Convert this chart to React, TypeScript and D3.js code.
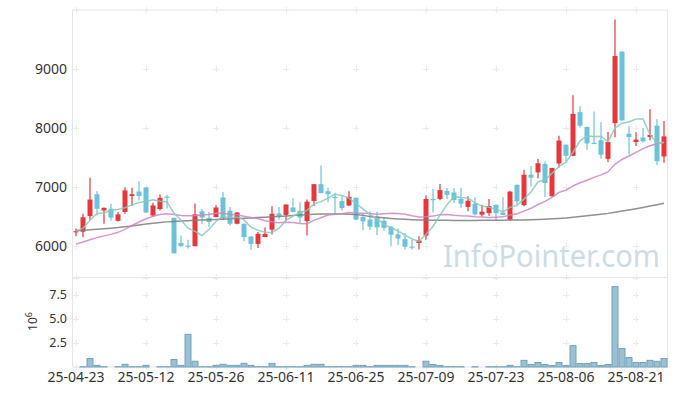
import React from 'react';
import * as d3 from 'd3';

const dates = [
  '25-04-23','25-04-24','25-04-25','25-04-28','25-04-29','25-04-30','25-05-02','25-05-07','25-05-08','25-05-09',
  '25-05-12','25-05-13','25-05-14','25-05-15','25-05-16','25-05-19','25-05-20','25-05-21','25-05-22','25-05-23',
  '25-05-26','25-05-27','25-05-28','25-05-29','25-05-30','25-06-02','25-06-04','25-06-05','25-06-09','25-06-10',
  '25-06-11','25-06-12','25-06-13','25-06-16','25-06-17','25-06-18','25-06-19','25-06-20','25-06-23','25-06-24',
  '25-06-25','25-06-26','25-06-27','25-06-30','25-07-01','25-07-02','25-07-03','25-07-04','25-07-07','25-07-08',
  '25-07-09','25-07-10','25-07-11','25-07-14','25-07-15','25-07-16','25-07-17','25-07-18','25-07-21','25-07-22',
  '25-07-23','25-07-24','25-07-25','25-07-28','25-07-29','25-07-30','25-07-31','25-08-01','25-08-04','25-08-05',
  '25-08-06','25-08-07','25-08-08','25-08-11','25-08-12','25-08-13','25-08-14','25-08-18','25-08-19','25-08-20',
  '25-08-21','25-08-22','25-08-25','25-08-26','25-08-27',
];

const opens = [
  6235, 6245, 6510, 6880, 6605, 6635, 6430, 6580, 6850, 6925,
  6995, 6520, 6630, 6840, 6480, 6055, 6010, 6000, 6590, 6480,
  6495, 6825, 6600, 6380, 6380, 6165, 6040, 6155, 6280, 6555,
  6530, 6655, 6600, 6425, 6765, 7050, 6930, 6835, 6765, 6690,
  6820, 6495, 6450, 6500, 6430, 6330, 6200, 6120, 5995, 6055,
  6180, 6800, 6800, 6935, 6910, 6800, 6665, 6720, 6535, 6560,
  6700, 6570, 6450, 7040, 6695, 7210, 7250, 7395, 6845, 7400,
  7720, 7530, 8270, 8020, 7750, 7795, 7480, 8085, 9295, 7905,
  7765, 7840, 7850, 8040, 7520,
];
const highs = [
  6300, 6550, 7160, 6930, 6655, 6720, 6580, 7000, 6990, 7100,
  7000, 6735, 6875, 6870, 6480, 6180, 6110, 6725, 6630, 6580,
  6695, 6920, 6665, 6580, 6380, 6165, 6240, 6315, 6675, 6665,
  6710, 6810, 6750, 6790, 7055, 7365, 6990, 6905, 6850, 6930,
  6820, 6555, 6590, 6585, 6490, 6340, 6300, 6225, 6110, 6170,
  6860, 6975, 7055, 6985, 6985, 6985, 6845, 6830, 6700, 6800,
  6710, 6830, 6935, 7045, 7295, 7360, 7475, 7435, 7330, 7870,
  7720, 8555, 8370, 8025, 8280, 8100, 7935, 9840, 9300, 8030,
  7930, 8000, 8320, 8150, 8120,
];
const lows = [
  6170, 6150, 6440, 6520, 6380, 6430, 6420, 6550, 6680, 6775,
  6565, 6495, 6605, 6640, 5880, 5995, 5960, 6000, 6380, 6325,
  6485, 6450, 6350, 6370, 6085, 5940, 5970, 6150, 6200, 6450,
  6425, 6575, 6395, 6180, 6680, 6895, 6745, 6550, 6605, 6680,
  6440, 6270, 6280, 6190, 6260, 6000, 6020, 5945, 5945, 5945,
  6110, 6570, 6780, 6800, 6730, 6650, 6590, 6520, 6505, 6515,
  6425, 6525, 6430, 6685, 6675, 7010, 7150, 6835, 6840, 7330,
  7420, 7525, 8010, 7635, 7740, 7480, 7425, 7845, 8125, 7550,
  7695, 7750, 7790, 7375, 7415,
];
const closes = [
  6255, 6490, 6790, 6635, 6650, 6485, 6540, 6945, 6880, 6850,
  6570, 6690, 6820, 6830, 5880, 6000, 6000, 6540, 6485, 6410,
  6655, 6465, 6380, 6570, 6155, 6040, 6210, 6210, 6550, 6510,
  6705, 6580, 6485, 6755, 7050, 6900, 6880, 6815, 6645, 6835,
  6450, 6420, 6330, 6320, 6310, 6195, 6130, 5990, 5985, 6100,
  6800, 6795, 6950, 6870, 6780, 6720, 6770, 6540, 6585, 6680,
  6560, 6530, 6925, 6760, 7210, 7160, 7405, 7070, 7325, 7790,
  7530, 8240, 8040, 7740, 7745, 7550, 7765, 9220, 8130, 7850,
  7805, 7775, 7885, 7440, 7860,
];
// volume in millions of shares
const volumesM = [
  0, 0.03, 0.88, 0.17, 0.03, 0, 0.03, 0.28, 0.03, 0.03,
  0.17, 0, 0.03, 0.03, 0.78, 0.17, 3.38, 0.6, 0.03, 0.03,
  0.17, 0.28, 0.17, 0.17, 0.38, 0.17, 0.03, 0.03, 0.38, 0.03,
  0.03, 0.03, 0.03, 0.17, 0.28, 0.28, 0.03, 0.03, 0.03, 0.03,
  0.17, 0.17, 0.03, 0.17, 0.17, 0.17, 0.17, 0.17, 0.03, 0,
  0.6, 0.26, 0.15, 0.03, 0.03, 0.03, 0, 0.03, 0, 0.03,
  0.03, 0.03, 0.17, 0.03, 0.69, 0.26, 0.47, 0.26, 0.15, 0.47,
  0.15, 2.22, 0.36, 0.36, 0.47, 0.15, 0.26, 8.35, 1.92, 0.98,
  0.47, 0.47, 0.69, 0.59, 0.88,
];
// moving averages whose windows reach before the first shown day
const ma5Head = [6250, 6305, 6440, 6555];
const ma20Head = [
  6035, 6070, 6110, 6145, 6175, 6200, 6235, 6285, 6350, 6410,
  6465, 6505, 6535, 6550, 6535, 6520, 6515, 6520, 6530,
];
const ma120 = [
  6265, 6272, 6280, 6288, 6296, 6305, 6315, 6328, 6342, 6358,
  6375, 6390, 6402, 6412, 6420, 6426, 6432, 6438, 6443, 6448,
  6453, 6458, 6463, 6468, 6473, 6478, 6484, 6490, 6497, 6505,
  6513, 6520, 6527, 6534, 6540, 6545, 6547, 6547, 6545, 6541,
  6535, 6522, 6505, 6492, 6481, 6471, 6462, 6455, 6449, 6445,
  6442, 6440, 6439, 6438, 6437, 6437, 6437, 6437, 6438, 6439,
  6440, 6441, 6442, 6443, 6445, 6448, 6452, 6457, 6463, 6470,
  6478, 6490, 6502, 6514, 6527, 6541, 6556, 6575, 6595, 6615,
  6635, 6657, 6680, 6703, 6726,
];
const priceTicks = [6000, 7000, 8000, 9000];
const volumeTicks = [2.5, 5.0, 7.5];
const xTickLabels = ['25-04-23', '25-05-12', '25-05-26', '25-06-11', '25-06-25', '25-07-09', '25-07-23', '25-08-06', '25-08-21'];

const movingAverage = (n: number, head: number[]) =>
  closes.map((_, i) => (i < head.length ? head[i] : d3.mean(closes.slice(i - n + 1, i + 1)) as number));

const UP = '#e8363b';
const DOWN = '#6cc3d9';
const FONT = '"Noto Sans", "Open Sans", sans-serif';

export default function App() {
  const L = 72.5, R = 667.5, T = 10, MB = 277.5, VB = 367;
  const x = d3.scaleBand<string>().domain(dates).range([L, R]);
  const bw = x.bandwidth();
  const cx = (i: number) => (x(dates[i]) as number) + bw / 2;
  const y = d3.scaleLinear().domain([5470, 10000]).range([MB, T]);
  const yv = d3.scaleLinear().domain([0, 9.3]).range([VB, MB]);

  const ma5 = movingAverage(5, ma5Head);
  const ma20 = movingAverage(20, ma20Head);
  const line = d3.line<number>().x((_, i) => cx(i)).y((d) => y(d));

  const tickIdx = xTickLabels.map((t) => dates.indexOf(t));
  const crossYs = [T, ...priceTicks.map((p) => y(p)), MB, ...volumeTicks.map((v) => yv(v)), VB];
  const gridCol = '#ebebeb';

  return (
    <svg width={677} height={396} style={{ position: 'absolute', left: 0, top: 0, background: '#fff' }} fontFamily={FONT}>
      {/* watermark */}
      <text x={443} y={267} fontSize={31} fill="#c3d7e2" opacity={0.85} fontFamily={FONT}
        textLength={217} lengthAdjust="spacingAndGlyphs">
        InfoPointer.com
      </text>

      {/* frames */}
      <g fill="none" stroke="#e6e6e6" strokeWidth={1}>
        <line x1={L} x2={R} y1={T} y2={T} />
        <line x1={L} x2={R} y1={MB} y2={MB} />
        <line x1={L} x2={R} y1={VB} y2={VB} />
        <line x1={L} x2={L} y1={T} y2={VB} />
        <line x1={R} x2={R} y1={T} y2={VB} />
      </g>

      {/* grid crosses */}
      <g stroke={gridCol} strokeWidth={1}>
        {tickIdx.map((ti) =>
          crossYs.map((cy, k) => (
            <g key={`${ti}-${k}`}>
              <line x1={cx(ti) - 3} x2={cx(ti) + 3} y1={Math.round(cy) + 0.5} y2={Math.round(cy) + 0.5} />
              <line x1={Math.round(cx(ti)) + 0.5} x2={Math.round(cx(ti)) + 0.5} y1={cy - 3} y2={cy + 3} />
            </g>
          ))
        )}
      </g>

      {/* price axis labels */}
      <g fontSize={14} fill="#333" textAnchor="end">
        {priceTicks.map((p) => (
          <text key={p} x={67} y={y(p)} dy="0.36em">{p}</text>
        ))}
      </g>
      {/* volume axis labels */}
      <g fontSize={12.5} fill="#333" textAnchor="end">
        {volumeTicks.map((v) => (
          <text key={v} x={67} y={yv(v)} dy="0.36em">{v.toFixed(1)}</text>
        ))}
      </g>
      <text transform="translate(36.5,321.5) rotate(-90)" textAnchor="middle" fontSize={12} fill="#333">
        10<tspan dy={-5} fontSize={9}>6</tspan>
      </text>

      {/* x labels */}
      <g fontSize={14} fill="#333" textAnchor="middle">
        {tickIdx.map((ti, k) => (
          <text key={k} x={cx(ti)} y={382}>{xTickLabels[k]}</text>
        ))}
      </g>

      {/* volume bars */}
      <g fill="#9bc0d2" stroke="#73a3bb" strokeWidth={1}>
        {volumesM.map((v, i) =>
          v > 0 ? (
            <rect key={i} x={x(dates[i])! + 0.5} width={bw - 1} y={yv(v)} height={Math.max(0.01, VB - yv(v))} />
          ) : null
        )}
      </g>

      {/* candles */}
      <g>
        {closes.map((c, i) => {
          const o = opens[i];
          const up = c >= o;
          const col = up ? UP : DOWN;
          const top = y(Math.max(o, c));
          const bot = y(Math.min(o, c));
          return (
            <g key={i}>
              <line x1={cx(i)} x2={cx(i)} y1={y(highs[i])} y2={y(lows[i])} stroke={col} strokeWidth={1.2} />
              <rect x={cx(i) - 2.5} width={5} y={top} height={Math.max(1.2, bot - top)} fill={col} />
            </g>
          );
        })}
      </g>

      {/* moving averages */}
      <path d={line(ma120) as string} fill="none" stroke="#7d7d7d" strokeWidth={1.5} opacity={0.85} />
      <path d={line(ma20) as string} fill="none" stroke="#cd86c5" strokeWidth={1.5} opacity={0.85} />
      <path d={line(ma5) as string} fill="none" stroke="#86cabb" strokeWidth={1.5} opacity={0.85} />
    </svg>
  );
}
